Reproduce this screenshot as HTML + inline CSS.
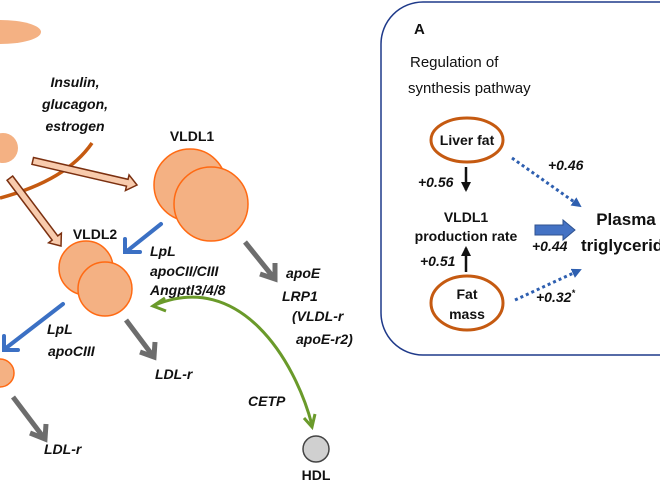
<!DOCTYPE html>
<html><head><style>
body{margin:0;background:#fff;width:660px;height:484px;overflow:hidden}
text{font-family:"Liberation Sans",sans-serif;font-weight:bold;fill:#111}
.i{font-style:italic}
</style></head><body>
<svg width="660" height="484" viewBox="0 0 660 484" xmlns="http://www.w3.org/2000/svg">
<defs>
<marker id="tb" markerWidth="10" markerHeight="10" refX="8" refY="5" orient="auto" markerUnits="userSpaceOnUse"><path d="M0,0 L10,5 L0,10 Z" fill="#2e5fb0"/></marker>
<marker id="kb" markerWidth="10" markerHeight="10" refX="8" refY="5" orient="auto" markerUnits="userSpaceOnUse"><path d="M0,0 L10,5 L0,10 Z" fill="#111"/></marker>
</defs>
<ellipse cx="0" cy="32" rx="41" ry="12" fill="#f4b183"/>
<circle cx="3" cy="148" r="15" fill="#f4b183"/>
<path d="M92,143 C70,175 30,190 0,198" fill="none" stroke="#c55a11" stroke-width="3.5"/>
<text class="i" x="75" y="87" font-size="14" text-anchor="middle">Insulin,</text>
<text class="i" x="75" y="109" font-size="14" text-anchor="middle">glucagon,</text>
<text class="i" x="75" y="131" font-size="14" text-anchor="middle">estrogen</text>
<g fill="#f8cbad" stroke="#7b3010" stroke-width="1.5">
<path transform="translate(137,185) rotate(13)" d="M-107,-3.5 L-10,-3.5 L-10,-8 L0,0 L-10,8 L-10,3.5 L-107,3.5 Z"/>
<path transform="translate(61,246) rotate(53)" d="M-85,-3.5 L-10,-3.5 L-10,-8 L0,0 L-10,8 L-10,3.5 L-85,3.5 Z"/>
</g>
<text x="192" y="141" font-size="14" text-anchor="middle">VLDL1</text>
<circle cx="190" cy="185" r="36" fill="#f4b183" stroke="#ff6a13" stroke-width="1.5"/>
<circle cx="211" cy="204" r="37" fill="#f4b183" stroke="#ff6a13" stroke-width="1.5"/>
<text x="95" y="239" font-size="14" text-anchor="middle">VLDL2</text>
<circle cx="86" cy="268" r="27" fill="#f4b183" stroke="#ff6a13" stroke-width="1.5"/>
<circle cx="105" cy="289" r="27" fill="#f4b183" stroke="#ff6a13" stroke-width="1.5"/>
<circle cx="0" cy="373" r="14" fill="#f4b183" stroke="#ff6a13" stroke-width="1.5"/>
<g stroke="#3b70c4" stroke-width="4" fill="none" stroke-linecap="round">
<path d="M161,224 L127,251"/><path d="M125,239 L125,252 L140,252"/>
<path d="M63,304 L6,348"/><path d="M4,336 L4,350 L18,350"/>
</g>
<g stroke="#6d6d6d" stroke-width="5" fill="none">
<path d="M245,242 L274,278"/><path d="M260,274 L275,279 L275,263"/>
<path d="M126,320 L153,356"/><path d="M140,352 L154,357 L155,342"/>
<path d="M13,397 L44,438"/><path d="M30,433 L45,439 L46,424"/>
</g>
<text class="i" x="150" y="256" font-size="14">LpL</text>
<text class="i" x="150" y="276" font-size="14">apoCII/CIII</text>
<text class="i" x="150" y="295" font-size="14">Angptl3/4/8</text>
<text class="i" x="286" y="278" font-size="14">apoE</text>
<text class="i" x="282" y="301" font-size="14">LRP1</text>
<text class="i" x="292" y="321" font-size="14">(VLDL-r</text>
<text class="i" x="296" y="344" font-size="14">apoE-r2)</text>
<text class="i" x="47" y="334" font-size="14">LpL</text>
<text class="i" x="48" y="356" font-size="14">apoCIII</text>
<text class="i" x="155" y="379" font-size="14">LDL-r</text>
<text class="i" x="44" y="454" font-size="14">LDL-r</text>
<path d="M155,305 C240,270 295,360 312,425" fill="none" stroke="#6a9a2a" stroke-width="3"/>
<path d="M165,298 L153,306 L166,311" fill="none" stroke="#6a9a2a" stroke-width="3"/>
<path d="M304,418 L312,427 L315,414" fill="none" stroke="#6a9a2a" stroke-width="3"/>
<text class="i" x="248" y="406" font-size="14">CETP</text>
<circle cx="316" cy="449" r="13" fill="#d0d0d0" stroke="#444" stroke-width="1.5"/>
<text x="316" y="480" font-size="14" text-anchor="middle">HDL</text>
<rect x="381" y="2" width="320" height="353" rx="42" fill="none" stroke="#1f3a8a" stroke-width="1.5"/>
<text x="414" y="34" font-size="15">A</text>
<text x="410" y="67" font-size="15" style="font-weight:normal">Regulation  of</text>
<text x="408" y="93" font-size="15" style="font-weight:normal">synthesis pathway</text>
<ellipse cx="467" cy="140" rx="36" ry="22" fill="#fff" stroke="#c55a11" stroke-width="3"/>
<text x="467" y="145" font-size="14" text-anchor="middle">Liver fat</text>
<ellipse cx="467" cy="303" rx="36" ry="27" fill="#fff" stroke="#c55a11" stroke-width="3"/>
<text x="467" y="299" font-size="14" text-anchor="middle">Fat</text>
<text x="467" y="319" font-size="14" text-anchor="middle">mass</text>
<line x1="466" y1="167" x2="466" y2="190" stroke="#111" stroke-width="2.5" marker-end="url(#kb)"/>
<line x1="466" y1="272" x2="466" y2="248" stroke="#111" stroke-width="2.5" marker-end="url(#kb)"/>
<text class="i" x="418" y="187" font-size="14">+0.56</text>
<text class="i" x="420" y="266" font-size="14">+0.51</text>
<text x="466" y="222" font-size="14" text-anchor="middle">VLDL1</text>
<text x="466" y="241" font-size="14" text-anchor="middle">production rate</text>
<polygon points="535,225 563,225 563,220 575,230 563,240 563,235 535,235" fill="#4472c4" stroke="#2f528f" stroke-width="1"/>
<text class="i" x="532" y="251" font-size="14">+0.44</text>
<text x="626" y="225" font-size="17" text-anchor="middle">Plasma</text>
<text x="581" y="251" font-size="17">triglycerides</text>
<line x1="512" y1="158" x2="580" y2="206" stroke="#2e5fb0" stroke-width="3" stroke-dasharray="3,3" marker-end="url(#tb)"/>
<line x1="515" y1="300" x2="580" y2="270" stroke="#2e5fb0" stroke-width="3" stroke-dasharray="3,3" marker-end="url(#tb)"/>
<text class="i" x="548" y="170" font-size="14">+0.46</text>
<text class="i" x="536" y="302" font-size="14">+0.32<tspan font-size="9" dy="-6">*</tspan></text>
</svg>
</body></html>
